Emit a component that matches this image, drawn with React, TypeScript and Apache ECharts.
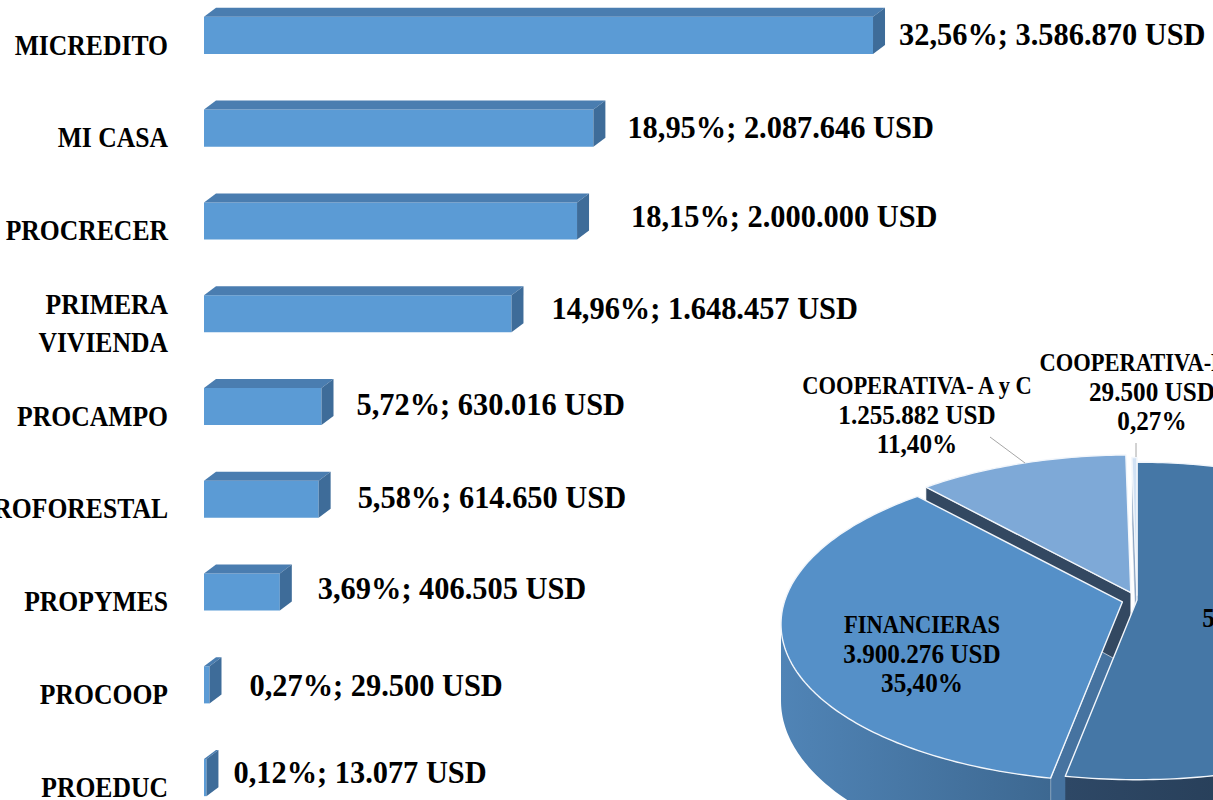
import React, { useEffect, useRef } from 'react';
import * as echarts from 'echarts';

// ---------------- DATA ----------------
const categories = ['MICREDITO', 'MI CASA', 'PROCRECER', 'PRIMERA VIVIENDA', 'PROCAMPO', 'AGROFORESTAL', 'PROPYMES', 'PROCOOP', 'PROEDUC'];
const amountsUSD = [3586870, 2087646, 2000000, 1648457, 630016, 614650, 406505, 29500, 13077];
const sharePct = [32.56, 18.95, 18.15, 14.96, 5.72, 5.58, 3.69, 0.27, 0.12];

const pieNames = ['', 'FINANCIERAS', 'COOPERATIVA- A y C', 'COOPERATIVA-F'];
const pieAmountsUSD = [5831063, 3900276, 1255882, 29500];
const piePct = [52.93, 35.4, 11.4, 0.27];

// ---------------- STYLE ----------------
const FONT = "'Liberation Serif', 'Times New Roman', serif";
const barLabelShift = [[26, -1], [34, -1], [54, -5], [40, -5], [35, -2], [39, -2], [38, -4], [40, 0], [27, -5]];
const BAR_DX = 12;
const BAR_DY = 9;
const CAT_GAP = 36;
const CAT_DROP = 9;

const PIE = { cx: 1137, cy: 600, rx: 338, ry: 156, p: 0.132, q: 0.14, h: 75 };
const pieExplode = [0, 0.045, 0.05, 0.03];
const pieStyle = [
  { top: '#4577A6', wall: ['#2E4866', '#1F3247'], face: '#3A6591' },
  { top: '#5590C8', wall: ['#5084B6', '#3D6891'], face: '#4673A0' },
  { top: '#7EA9D7', wall: ['#6E95C0', '#5A7DA6'], face: '#334861' },
  { top: '#D2E2F4', wall: ['#B0C6E0', '#9AB2CF'], face: '#8FA7C4' },
];
const pieLabelPos = [[1281, 632], [922, 654], [917, 415], [1152, 392]];
const pieNamePad = [0, 0, 0, 44];
const pieLeader: (number[][] | null)[] = [null, null, [[990, 437], [1025, 463]], [[1136, 443], [1136, 457]]];

const fmtUSD = (n: number) => String(n).replace(/\B(?=(\d{3})+(?!\d))/g, '.');
const fmtPct = (p: number) => p.toFixed(2).replace('.', ',') + '%';

const pieTotal = pieAmountsUSD.reduce((a, b) => a + b, 0);
const pieStarts: number[] = [];
pieAmountsUSD.reduce((acc, v, i) => { pieStarts[i] = acc; return acc + v; }, 0);

const DEG = Math.PI / 180;

function buildOption() {
  const barSeries = {
    type: 'custom',
    coordinateSystem: 'cartesian2d',
    clip: false,
    encode: { x: 0, y: 1 },
    data: amountsUSD.map((v, i) => [v, i]),
    renderItem: (params: any, api: any) => {
      const i = params.dataIndex;
      const v = api.value(0);
      const base = api.coord([0, i]);
      const end = api.coord([v, i]);
      const band = api.size([0, 1])[1];
      const h = band * 0.4;
      const x0 = base[0];
      const x1 = end[0];
      const cy = base[1];
      const top = cy - h / 2;
      const bot = cy + h / 2;
      const cat = categories[i] === 'PRIMERA VIVIENDA' ? 'PRIMERA\nVIVIENDA' : categories[i];
      return {
        type: 'group',
        children: [
          { type: 'rect', shape: { x: x0, y: top, width: Math.max(x1 - x0, 0.5), height: h }, style: { fill: '#5B9BD5' } },
          { type: 'polygon', shape: { points: [[x0, top], [x0 + BAR_DX, top - BAR_DY], [x1 + BAR_DX, top - BAR_DY], [x1, top]] }, style: { fill: '#4A7DB0' } },
          { type: 'polygon', shape: { points: [[x1, top], [x1 + BAR_DX, top - BAR_DY], [x1 + BAR_DX, bot - BAR_DY], [x1, bot]] }, style: { fill: '#3E6C99' } },
          {
            type: 'text',
            x: x1 + barLabelShift[i][0],
            y: cy + barLabelShift[i][1],
            scaleX: 0.95,
            style: {
              text: fmtPct(sharePct[i]) + '; ' + fmtUSD(amountsUSD[i]) + ' USD',
              fill: '#000', fontFamily: FONT, fontWeight: 'bold', fontSize: 32,
              align: 'left', verticalAlign: 'middle',
            },
          },
          {
            type: 'text',
            x: x0 - CAT_GAP,
            y: cy + CAT_DROP,
            scaleX: 0.855,
            style: {
              text: cat,
              fill: '#000', fontFamily: FONT, fontWeight: 'bold', fontSize: 30, lineHeight: 38,
              align: 'right', verticalAlign: 'middle',
            },
          },
        ],
      };
    },
  };

  const pieSeries = {
    type: 'custom',
    coordinateSystem: 'none',
    data: pieAmountsUSD.map((v) => [v]),
    renderItem: (params: any, api: any) => {
      const i = params.dataIndex;
      const val = api.value(0);
      const a0 = (pieStarts[i] / pieTotal) * 2 * Math.PI;
      const a1 = ((pieStarts[i] + val) / pieTotal) * 2 * Math.PI;
      const mid = (a0 + a1) / 2;
      const e = pieExplode[i];
      const ex = PIE.rx * e * Math.sin(mid);
      const ey = PIE.ry * e * -Math.cos(mid);
      const P3 = (th: number, r: number, dz: number) => {
        const u = Math.sin(th) * r;
        const v = -Math.cos(th) * r;
        const sx = 1 / (1 - PIE.q * v);
        const sy = 1 / (1 - PIE.p * v);
        return [PIE.cx + ex + PIE.rx * u * sx, PIE.cy + ey + PIE.ry * v * sy + dz * sy];
      };
      const arc = (from: number, to: number, dz: number) => {
        const n = Math.max(2, Math.ceil(Math.abs(to - from) / DEG) + 1);
        const pts: number[][] = [];
        for (let k = 0; k <= n; k++) pts.push(P3(from + ((to - from) * k) / n, 1, dz));
        return pts;
      };
      const st = pieStyle[i];
      const children: any[] = [];
      const face = (th: number) => [P3(th, 0, 0), P3(th, 1, 0), P3(th, 1, PIE.h), P3(th, 0, PIE.h)];
      if (Math.sin(a0) < -1e-6) children.push({ type: 'polygon', z2: 1, shape: { points: face(a0) }, style: { fill: st.face, stroke: 'rgba(255,255,255,0.6)', lineWidth: 1 } });
      if (Math.sin(a1) > 1e-6) children.push({ type: 'polygon', z2: 1, shape: { points: face(a1) }, style: { fill: st.face, stroke: 'rgba(255,255,255,0.6)', lineWidth: 1 } });
      const w0 = Math.max(a0, 98 * DEG);
      const w1 = Math.min(a1, 262 * DEG);
      if (w1 > w0) {
        const pts = arc(w0, w1, 0).concat(arc(w1, w0, PIE.h));
        children.push({
          type: 'polygon', z2: 2, shape: { points: pts },
          style: {
            fill: new echarts.graphic.LinearGradient(0, 0, 1, 0, [
              { offset: 0, color: st.wall[0] }, { offset: 1, color: st.wall[1] },
            ]),
          },
        });
      }
      const topPts = [P3(0, 0, 0)].concat(arc(a0, a1, 0));
      children.push({ type: 'polygon', z2: 10, shape: { points: topPts }, style: { fill: st.top, stroke: '#F2F6FB', lineWidth: 1.4, lineJoin: 'round' } });

      const lp = pieLabelPos[i];
      const lines: string[] = [];
      if (pieNames[i]) lines.push('{n|' + pieNames[i] + '}');
      lines.push('{v|' + fmtUSD(pieAmountsUSD[i]) + ' USD}');
      lines.push('{v|' + fmtPct(piePct[i]) + '}');
      children.push({
        type: 'text', z2: 30, x: lp[0], y: lp[1], scaleX: 0.9,
        style: {
          text: lines.join('\n'),
          align: 'center', verticalAlign: 'middle', fill: '#000',
          fontFamily: FONT, fontWeight: 'bold', fontSize: 29,
          rich: {
            n: { fontFamily: FONT, fontWeight: 'bold', fontSize: 25, lineHeight: 29, fill: '#000', padding: [0, pieNamePad[i], 0, 0] },
            v: { fontFamily: FONT, fontWeight: 'bold', fontSize: 28, lineHeight: 29, fill: '#000' },
          },
        },
      });
      const ld = pieLeader[i];
      if (ld) {
        children.push({ type: 'line', z2: 30, shape: { x1: ld[0][0], y1: ld[0][1], x2: ld[1][0], y2: ld[1][1] }, style: { stroke: '#A6A6A6', lineWidth: 1 } });
      }
      return { type: 'group', children };
    },
  };

  return {
    animation: false,
    backgroundColor: '#ffffff',
    grid: { left: 204, top: -11, width: 932.6, height: 835, containLabel: false, outerBoundsMode: 'none' },
    xAxis: { type: 'value', min: 0, max: 5000000, show: false },
    yAxis: {
      type: 'category',
      inverse: true,
      data: categories,
      axisLine: { show: false },
      axisTick: { show: false },
      splitLine: { show: false },
      axisLabel: { show: false },
    },
    series: [barSeries, pieSeries],
  };
}

export default function App() {
  const ref = useRef<HTMLDivElement>(null);
  useEffect(() => {
    document.body.style.margin = '0';
    const chart = echarts.init(ref.current as HTMLDivElement, null, { renderer: 'svg' });
    chart.setOption(buildOption() as any);
    return () => chart.dispose();
  }, []);
  return <div ref={ref} style={{ position: 'fixed', left: 0, top: 0, width: 1213, height: 800, background: '#fff' }} />;
}
